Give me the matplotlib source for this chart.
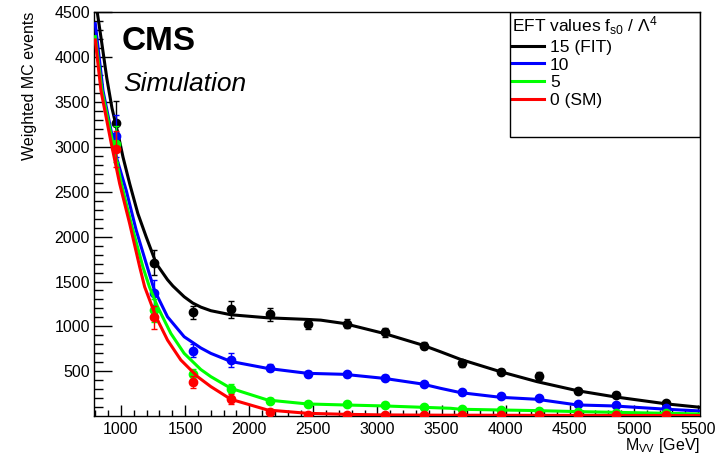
import numpy as np
import matplotlib
matplotlib.use('Agg')
import matplotlib.pyplot as plt
from matplotlib.patches import Rectangle
from matplotlib.ticker import MultipleLocator

plt.rcParams['font.family'] = ['Liberation Sans', 'DejaVu Sans']
plt.rcParams['mathtext.fontset'] = 'custom'
plt.rcParams['mathtext.rm'] = 'Liberation Sans'
plt.rcParams['mathtext.it'] = 'Liberation Sans:italic'

# 1) MC points (bin centres in GeV)
mass_pts = [960, 1260, 1560, 1860, 2160, 2460, 2760, 3060, 3360, 3660, 3960, 4260, 4560, 4860, 5250]

pts_15 = [3262, 1711, 1156, 1189, 1133, 1029, 1030, 937, 784, 589, 496, 448, 281, 240, 144]
err_15 = [250, 140, 75, 90, 75, 55, 50, 50, 40, 40, 30, 40, 30, 25, 25]
pts_10 = [3120, 1373, 729, 625, 540, 467, 467, 430, 359, 267, 226, 200, 133, 126, 89]
err_10 = [230, 140, 70, 75, 40, 35, 30, 30, 25, 25, 20, 20, 15, 15, 15]
pts_5 = [3030, 1180, 470, 306, 174, 137, 133, 130, 107, 81, 70, 59, 52, 41, 33]
err_5 = [200, 130, 60, 50, 30, 25, 20, 20, 15, 15, 12, 12, 10, 10, 10]
pts_0 = [2978, 1100, 385, 188, 51, 15, 15, 12, 10, 10, 10, 10, 10, 10, 10]
err_0 = [200, 130, 65, 55, 20, 8, 8, 6, 5, 5, 5, 5, 5, 5, 5]

# 2) fitted curves, sampled by eye along each line
fit15_x = [815, 850, 890, 930, 977, 1016, 1068, 1132, 1197, 1275, 1363, 1405, 1493, 1560, 1623, 1701, 1857,
           2143, 2454, 2558, 2739, 3051, 3350, 3492, 3648, 3959, 4245, 4557, 4842, 5258, 5515]
fit15_y = [4500, 4160, 3760, 3430, 3145, 2885, 2589, 2256, 1996, 1700, 1520, 1450, 1330, 1260, 1215, 1175, 1130,
           1096, 1078, 1070, 1033, 922, 793, 718, 633, 496, 385, 285, 218, 137, 100]

fit10_x = [800, 860, 912, 964, 1041, 1119, 1197, 1259, 1363, 1493, 1623, 1701, 1857,
           2143, 2454, 2739, 3051, 3350, 3492, 3648, 3959, 4245, 4557, 4842, 5258, 5515]
fit10_y = [4370, 3625, 3256, 2885, 2515, 2070, 1700, 1410, 1107, 885, 760, 700, 610,
           533, 478, 467, 422, 359, 311, 263, 211, 189, 126, 115, 78, 59]

fit5_x = [800, 852, 938, 1003, 1080, 1171, 1222, 1286, 1389, 1493, 1623, 1701, 1857,
          2143, 2454, 2739, 3051, 3350, 3570, 3648, 3959, 4245, 4557, 4842, 5258, 5515]
fit5_y = [4226, 3625, 3033, 2589, 2144, 1663, 1440, 1218, 922, 700, 520, 441, 311,
          181, 137, 126, 115, 100, 89, 78, 70, 63, 52, 44, 33, 26]

fit0_x = [800, 844, 925, 990, 1068, 1146, 1185, 1273, 1363, 1467, 1597, 1701, 1857,
          2143, 2454, 2739, 3051, 3500, 4500, 5515]
fit0_y = [4189, 3625, 3033, 2589, 2144, 1663, 1440, 1107, 848, 626, 441, 330, 189,
          70, 33, 22, 15, 12, 10, 8]

labels = ['15 (FIT)', '10', '5', '0 (SM)']
colors = ['#000000', '#0000ff', '#00ff00', '#ff0000']

series = [
    (fit15_x, fit15_y, pts_15, err_15),
    (fit10_x, fit10_y, pts_10, err_10),
    (fit5_x, fit5_y, pts_5, err_5),
    (fit0_x, fit0_y, pts_0, err_0),
]

fig = plt.figure(figsize=(7.21, 4.54), dpi=100)
ax = fig.add_axes([0.1304, 0.0837, 0.8405, 0.8899])

for i, (cx, cy, p, e) in enumerate(series):
    ax.plot(cx, cy, color=colors[i], lw=2.2, zorder=2 + i, label=labels[i],
            solid_joinstyle='round')
    ax.errorbar(mass_pts, p, yerr=e, fmt='o', ms=6, color=colors[i], ecolor=colors[i],
                elinewidth=1, capsize=2.5, capthick=1, zorder=2 + i)

ax.set_xlim(790, 5515)
ax.set_ylim(3, 4500)
ax.set_xticks(np.arange(1000, 5501, 500))
ax.set_yticks(np.arange(500, 4501, 500))
ax.xaxis.set_minor_locator(MultipleLocator(100))
ax.yaxis.set_minor_locator(MultipleLocator(100))
ax.tick_params(which='both', direction='in', top=False, right=False, width=1)
ax.tick_params(axis='x', which='major', length=8, labelsize=11.5, pad=4)
ax.tick_params(axis='x', which='minor', length=4)
ax.tick_params(axis='y', which='major', length=13, labelsize=11.5, pad=3)
ax.tick_params(axis='y', which='minor', length=6.5)
for s in ax.spines.values():
    s.set_linewidth(1)

ax.text(1.0, -0.074, r'M$_{\rm VV}$ [GeV]', transform=ax.transAxes, ha='right', va='center', fontsize=11.5)
ax.text(-0.106, 1.0, 'Weighted MC events', transform=ax.transAxes, rotation=90,
        ha='center', va='top', fontsize=11.5)

ax.text(0.046, 0.906, 'CMS', transform=ax.transAxes, fontsize=24, fontweight='bold', va='baseline')
ax.text(0.048, 0.805, 'Simulation', transform=ax.transAxes, fontsize=19, style='italic', va='baseline')

leg = ax.legend(loc='upper left', bbox_to_anchor=(0.686, 1.0), frameon=False, fontsize=12.5,
                title=r'EFT values f$_{\rm s0}$ / $\Lambda^{\rm 4}$', title_fontsize=12.5,
                alignment='left', handlelength=1.85, handletextpad=0.35, labelspacing=0.16,
                borderaxespad=0, borderpad=0.12)
ax.add_patch(Rectangle((0.686, 0.691), 0.314, 0.309, transform=ax.transAxes,
                       fill=False, ec='black', lw=1, zorder=10))

fig.savefig('out.png', dpi=100)
